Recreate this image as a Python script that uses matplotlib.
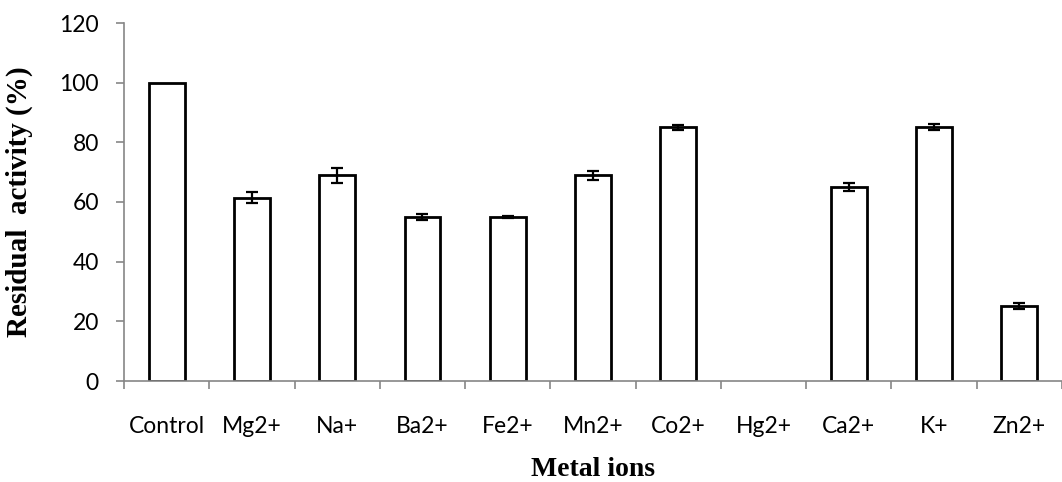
import numpy as np
import matplotlib
matplotlib.use("Agg")
import matplotlib.pyplot as plt

# values
ions = ["Control", "Mg2+", "Na+", "Ba2+", "Fe2+", "Mn2+", "Co2+", "Hg2+", "Ca2+", "K+", "Zn2+"]
activity = [100, 61.5, 69, 55, 55, 69, 85, 0, 65, 85, 25]
errors = [0, 2, 2.5, 1, 0.4, 1.5, 0.8, 0, 1.3, 1, 1]

grey = "#868686"

fig = plt.figure(figsize=(10.62, 4.82), dpi=100)
ax = fig.add_axes([124 / 1062, 101 / 482, 938 / 1062, 358 / 482])

x = np.arange(len(ions))
# zero-height bar (Hg2+) gets no outline, as in the original
edge_w = [2.0 if v > 0 else 0 for v in activity]
ax.bar(x, activity, width=0.42, color="white", edgecolor="black", linewidth=edge_w, zorder=2)
mask = np.array(errors) > 0
ax.errorbar(x[mask], np.array(activity)[mask], yerr=np.array(errors)[mask], fmt="none",
            ecolor="black", elinewidth=1.6, capsize=4.5, capthick=1.6, zorder=3)

ax.set_ylim(0, 120)
ax.set_xlim(-0.5, 10.42)
ax.set_yticks(range(0, 121, 20))

ax.set_xticks(x)
ax.set_xticklabels(ions)
ax.set_xticks(np.arange(-0.5, len(ions), 1), minor=True)
ax.tick_params(axis="x", which="major", length=0, pad=25, labelsize=16.5)
ax.tick_params(axis="x", which="minor", length=6, width=1.2, color=grey, direction="out")
ax.tick_params(axis="y", length=6, width=1.2, color=grey, pad=12, labelsize=16.5)
for lab in ax.get_xticklabels() + ax.get_yticklabels():
    lab.set_family("Lato")

for side in ["top", "right"]:
    ax.spines[side].set_visible(False)
for side in ["left", "bottom"]:
    ax.spines[side].set_color(grey)
    ax.spines[side].set_linewidth(1.2)

ax.set_ylabel("Residual  activity (%)", family="Liberation Serif", fontweight="bold", fontsize=21)
ax.set_xlabel("Metal ions", family="Liberation Serif", fontweight="bold", fontsize=20)
ax.yaxis.set_label_coords(-91 / 938, 0.5)
ax.xaxis.set_label_coords(0.5, -76 / 358)

fig.savefig("out.png", dpi=100)
